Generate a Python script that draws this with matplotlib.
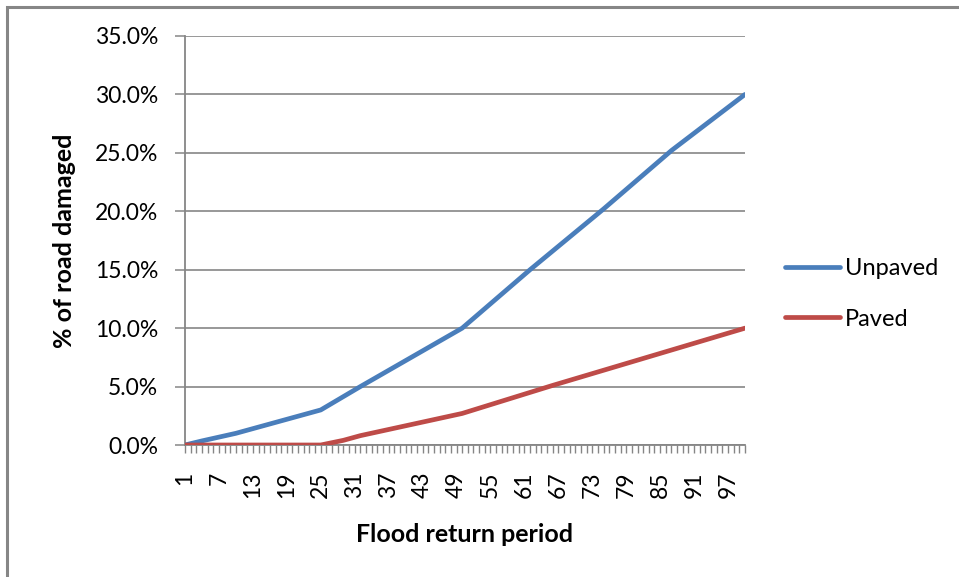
import matplotlib
matplotlib.use("Agg")
import matplotlib.pyplot as plt
from matplotlib.patches import Rectangle
from matplotlib.ticker import FuncFormatter

plt.rcParams['font.family'] = ['Lato', 'DejaVu Sans']

unpaved_period = [1, 4, 10, 25, 32, 50, 62, 75, 87, 100]
unpaved_pct = [0.0, 0.35, 1.0, 3.0, 5.0, 10.0, 15.0, 20.2, 25.2, 30.0]
paved_period = [1, 25, 29, 32, 50, 66, 100]
paved_pct = [0.0, 0.0, 0.4, 0.8, 2.7, 5.1, 10.0]

tick_periods = list(range(1, 101, 6))
all_periods = list(range(1, 101))
y_ticks = [0, 5, 10, 15, 20, 25, 30, 35]

grey = '#868686'

fig = plt.figure(figsize=(9.59, 5.77), dpi=100)
ax = fig.add_axes([185 / 959, 132 / 577, 560 / 959, 409 / 577])

ax.plot(unpaved_period, unpaved_pct, color='#4A7EBB', lw=3.4, label='Unpaved',
        solid_capstyle='round', zorder=3)
ax.plot(paved_period, paved_pct, color='#BE4B48', lw=3.4, label='Paved',
        solid_capstyle='round', zorder=3)

ax.set_xlim(1, 100)
ax.set_ylim(0, 35)
ax.set_yticks(y_ticks)
ax.yaxis.set_major_formatter(FuncFormatter(lambda v, p: f'{v:.1f}%'))
ax.set_xticks(tick_periods)
ax.set_xticks(all_periods, minor=True)
ax.set_xticklabels([str(t) for t in tick_periods], rotation=90)

ax.grid(axis='y', color=grey, lw=1.2)
ax.set_axisbelow(True)
for s in ['top', 'right']:
    ax.spines[s].set_visible(False)
for s in ['left', 'bottom']:
    ax.spines[s].set_color(grey)
    ax.spines[s].set_linewidth(1.3)

ax.tick_params(axis='y', direction='out', length=7.2, width=1.1, color=grey,
               labelsize=16.5, pad=12)
ax.tick_params(axis='x', which='both', direction='out', length=6, width=1.0,
               color=grey, labelsize=16.5, pad=13)

ax.set_xlabel('Flood return period', fontsize=18, fontweight='bold', labelpad=18)
ax.set_ylabel('% of road damaged', fontsize=18, fontweight='bold', labelpad=14)

ax.legend(loc='center left', bbox_to_anchor=(785 / 959, 1 - 294 / 577),
          bbox_transform=fig.transFigure, frameon=False, fontsize=17,
          borderpad=0, borderaxespad=0, handlelength=2.35, handletextpad=0.2,
          labelspacing=1.25)

# outer chart border, running off the right and bottom edges
fig.add_artist(Rectangle((7 / 959, -0.1), 1.1, 1.1 - 7 / 577,
                         transform=fig.transFigure, fill=False,
                         edgecolor=grey, lw=2.2))

fig.savefig('out.png', dpi=100)
